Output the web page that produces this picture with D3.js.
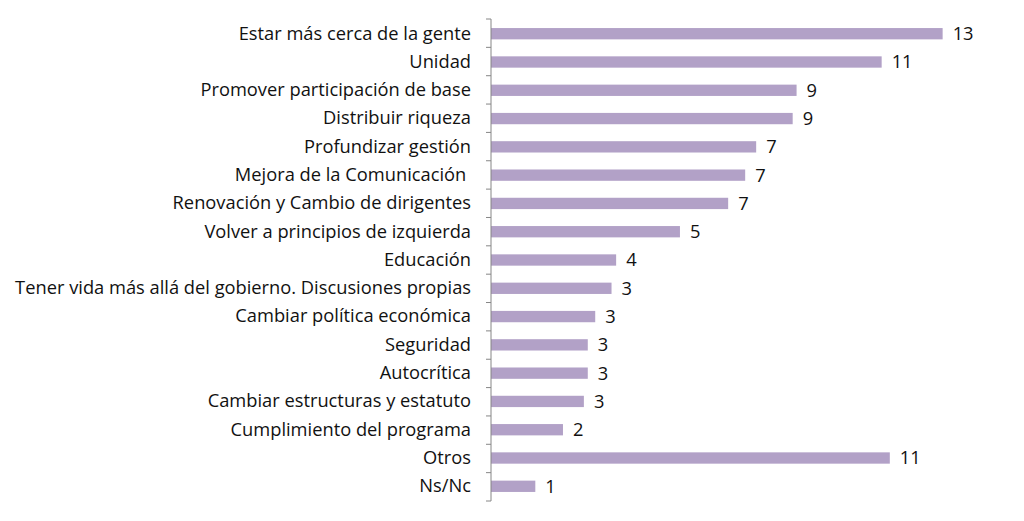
<!DOCTYPE html>
<html>
<head>
<meta charset="utf-8">
<script src="https://cdn.jsdelivr.net/npm/d3@7"></script>
<style>
  body { margin: 0; background: #fff; }
  svg text { font-family: "Open Sans", Lato, sans-serif; fill: #111; white-space: pre; }
</style>
</head>
<body>
<div id="chart"></div>
<script>
// categories, top to bottom
var categories = [
    "Estar más cerca de la gente",
    "Unidad",
    "Promover participación de base",
    "Distribuir riqueza",
    "Profundizar gestión",
    "Mejora de la Comunicación ",
    "Renovación y Cambio de dirigentes",
    "Volver a principios de izquierda",
    "Educación",
    "Tener vida más allá del gobierno. Discusiones propias",
    "Cambiar política económica",
    "Seguridad",
    "Autocrítica",
    "Cambiar estructuras y estatuto",
    "Cumplimiento del programa",
    "Otros",
    "Ns/Nc"
];
// values (labels show them rounded)
var values = [12.74, 11.02, 8.62, 8.51, 7.48, 7.17, 6.69, 5.33, 3.53, 3.40, 2.94, 2.73, 2.73, 2.62, 2.03, 11.25, 1.25];

var width = 1024, height = 521;
var axisX = 491, plotTop = 19, plotBottom = 501;
var fontSize = "18.3px";

var svg = d3.select("#chart").append("svg")
    .attr("width", width)
    .attr("height", height);

var x = d3.scaleLinear()
    .domain([0, 14])
    .range([axisX, axisX + 14 * 35.45]);

var y = d3.scaleBand()
    .domain(categories)
    .range([plotTop, plotBottom])
    .paddingInner(0.6)
    .paddingOuter(0.32);

// bars
svg.selectAll("rect.bar")
    .data(values)
    .enter()
    .append("rect")
        .attr("class", "bar")
        .attr("x", x(0))
        .attr("y", function(d, i) { return y(categories[i]); })
        .attr("width", function(d) { return x(d) - x(0); })
        .attr("height", y.bandwidth())
        .attr("fill", "#b2a1c7");

// value labels
svg.selectAll("text.val")
    .data(values)
    .enter()
    .append("text")
        .attr("class", "val")
        .attr("x", function(d) { return x(d) + 10; })
        .attr("y", function(d, i) { return y(categories[i]) + y.bandwidth() / 2; })
        .attr("dy", "0.35em")
        .attr("font-size", fontSize)
        .text(function(d) { return Math.round(d); });

// category labels
var yAxis = d3.axisLeft(y).tickSize(0).tickPadding(20);
var gy = svg.append("g")
    .attr("transform", "translate(" + axisX + ",0)")
    .call(yAxis);
gy.select(".domain").remove();
gy.selectAll("text")
    .attr("font-size", fontSize)
    .attr("fill", "#111");

// axis line with ticks at band boundaries
var step = (plotBottom - plotTop) / categories.length;
var bounds = d3.range(categories.length + 1).map(function(i) { return plotTop + i * step; });

svg.append("line")
    .attr("x1", axisX).attr("x2", axisX)
    .attr("y1", plotTop).attr("y2", plotBottom)
    .attr("stroke", "#868686")
    .attr("stroke-width", 1);

svg.selectAll("line.tick")
    .data(bounds)
    .enter()
    .append("line")
        .attr("class", "tick")
        .attr("x1", axisX - 5).attr("x2", axisX)
        .attr("y1", function(d) { return d; })
        .attr("y2", function(d) { return d; })
        .attr("stroke", "#868686")
        .attr("stroke-width", 1);
</script>
</body>
</html>
